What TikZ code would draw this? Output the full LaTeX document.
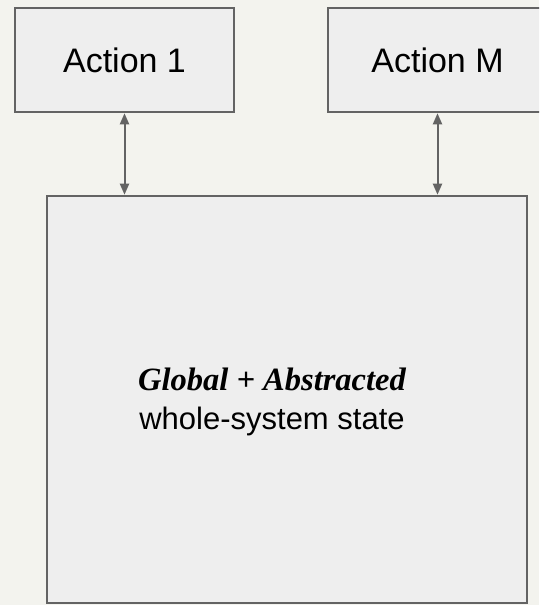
\documentclass[tikz,border=0pt]{standalone}
\usepackage{fontspec}
\setmainfont{Liberation Sans}
\newfontfamily\titleserif{Liberation Serif}
\usetikzlibrary{arrows.meta}
\definecolor{pagebg}{HTML}{F3F3EE}
\definecolor{boxfill}{HTML}{EEEEEE}
\definecolor{edgegray}{HTML}{636363}
\tikzset{
  actionbox/.style={draw=edgegray, fill=boxfill, line width=2.6pt,
    minimum width=219pt, minimum height=104pt, inner sep=0pt,
    font=\fontsize{34}{40}\selectfont},
  statebox/.style={draw=edgegray, fill=boxfill, line width=2.6pt,
    minimum width=480pt, minimum height=407pt, inner sep=0pt},
  link/.style={draw=edgegray, line width=2pt,
    {Triangle[length=11pt,width=9pt]}-{Triangle[length=11pt,width=9pt]}},
}
\begin{document}
\begin{tikzpicture}[x=1pt,y=1pt]
  \fill[pagebg] (0,0) rectangle (539,-605);
  \useasboundingbox (0,0) rectangle (539,-605);
  \clip (0,0) rectangle (539,-605);

  % action boxes along the top
  \node[actionbox] (a1) at (124.5,-60) {Action 1};
  \node[actionbox] (am) at (437.5,-60) {Action M};

  % whole-system state box
  \node[statebox] (state) at (287,-399.5) {};
  \node[align=center, font=\fontsize{31}{39}\selectfont] (label) at (272,-402)
    {{\titleserif\fontsize{32.5}{39}\selectfont\bfseries\itshape Global + Abstracted}\\whole-system state};

  % two-way links between actions and state
  \draw[link] (a1.south) -- (state.north -| a1.south);
  \draw[link] (am.south) -- (state.north -| am.south);
\end{tikzpicture}
\end{document}
